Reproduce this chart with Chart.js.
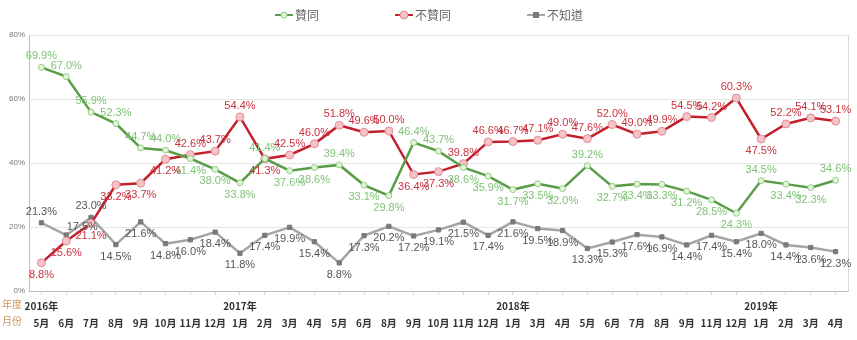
<!DOCTYPE html>
<html>
<head>
<meta charset="utf-8">
<script src="https://cdn.jsdelivr.net/npm/chart.js@4.4.1/dist/chart.umd.min.js"></script>
<style>
  html, body { margin: 0; padding: 0; background: #fff; }
  #wrap { width: 857px; height: 340px; position: relative; }
</style>
</head>
<body>
<div id="wrap"><canvas id="chart"></canvas></div>
<script>
// months / years along the bottom axis
const months = ["5月","6月","7月","8月","9月","10月","11月","12月",
  "1月","2月","3月","4月","5月","6月","8月","9月","10月","11月","12月",
  "1月","3月","4月","5月","6月","7月","8月","9月","11月","12月",
  "1月","2月","3月","4月"];
const years = ["2016年","","","","","","","",
  "2017年","","","","","","","","","","",
  "2018年","","","","","","","","","",
  "2019年","","",""];

const agree = [69.9, 67.0, 55.9, 52.3, 44.7, 44.0, 41.4, 38.0, 33.8, 41.4, 37.6,
  38.6, 39.4, 33.1, 29.8, 46.4, 43.7, 38.6, 35.9, 31.7, 33.5, 32.0, 39.2,
  32.7, 33.4, 33.3, 31.2, 28.5, 24.3, 34.5, 33.4, 32.3, 34.6];
const disagree = [8.8, 15.6, 21.1, 33.2, 33.7, 41.2, 42.6, 43.7, 54.4, 41.3, 42.5,
  46.0, 51.8, 49.6, 50.0, 36.4, 37.3, 39.8, 46.6, 46.7, 47.1, 49.0, 47.6,
  52.0, 49.0, 49.9, 54.5, 54.2, 60.3, 47.5, 52.2, 54.1, 53.1];
const unknown = [21.3, 17.5, 23.0, 14.5, 21.6, 14.8, 16.0, 18.4, 11.8, 17.4, 19.9,
  15.4, 8.8, 17.3, 20.2, 17.2, 19.1, 21.5, 17.4, 21.6, 19.5, 18.9, 13.3,
  15.3, 17.6, 16.9, 14.4, 17.4, 15.4, 18.0, 14.4, 13.6, 12.3];

const yTicks = [0, 20, 40, 60, 80];

// where each value label sits: a = above, b = below, r = above right
const labelSide = [
  "aaaaaabbbabbabbaabbbbbabbbbbbabba",
  "bbbbbbaaabaaaaabbaaaaaaaaaaaabaaa",
  "arabbbbbbbbbbbbbbbbbbbbbbbbbbbbbb"
];

const seriesStyle = [
  { line: "#5a9d47", fill: "#e4f4da", border: "#93cd80", text: "#80c277", style: "circle", r: 3 },
  { line: "#c2202c", fill: "#f5c3c7", border: "#df8c94", text: "#c8323f", style: "circle", r: 4 },
  { line: "#a5a5a5", fill: "#7a7a7a", border: "#7a7a7a", text: "#555555", style: "rect", r: 3 }
];

const valueLabels = {
  id: "valueLabels",
  afterDatasetsDraw(chart) {
    const ctx = chart.ctx;
    ctx.save();
    ctx.font = "11px 'Liberation Sans', Arial, sans-serif";
    ctx.textAlign = "center";
    ctx.textBaseline = "middle";
    chart.data.datasets.forEach(function (ds, di) {
      var meta = chart.getDatasetMeta(di);
      ctx.fillStyle = seriesStyle[di].text;
      meta.data.forEach(function (pt, i) {
        var side = labelSide[di][i] || "a";
        var x = pt.x, y = pt.y;
        if (side === "a") y -= 11;
        else if (side === "b") y += 12;
        else if (side === "r") { x += 16; y -= 8; }
        ctx.fillText(ds.data[i].toFixed(1) + "%", x, y);
      });
    });
    ctx.restore();
  }
};

const frameAndLegend = {
  id: "frameAndLegend",
  beforeDatasetsDraw(chart) {
    const a = chart.chartArea;
    const ctx = chart.ctx;
    ctx.save();
    ctx.strokeStyle = "#d9d9d9";
    ctx.lineWidth = 1;
    ctx.beginPath();
    ctx.moveTo(a.right + 0.5, a.top);
    ctx.lineTo(a.right + 0.5, a.bottom);
    ctx.stroke();
    ctx.restore();
  },
  afterDraw(chart) {
    const ctx = chart.ctx;
    ctx.save();
    // legend
    var items = [
      { x: 275, text: "贊同" },
      { x: 395, text: "不贊同" },
      { x: 527, text: "不知道" }
    ];
    ctx.font = "12px 'Noto Sans CJK TC', sans-serif";
    ctx.textBaseline = "middle";
    items.forEach(function (it, i) {
      var s = seriesStyle[i];
      var y = 15;
      ctx.strokeStyle = s.line;
      ctx.lineWidth = 2;
      ctx.beginPath();
      ctx.moveTo(it.x, y);
      ctx.lineTo(it.x + 18, y);
      ctx.stroke();
      ctx.fillStyle = s.fill;
      ctx.strokeStyle = s.border;
      ctx.lineWidth = 1;
      if (s.style === "rect") {
        ctx.fillRect(it.x + 6, y - 3, 6, 6);
      } else {
        ctx.beginPath();
        ctx.arc(it.x + 9, y, s.r, 0, Math.PI * 2);
        ctx.fill();
        ctx.stroke();
      }
      ctx.fillStyle = "#666";
      ctx.textAlign = "left";
      ctx.fillText(it.text, it.x + 20, y);
    });
    // row titles for the x axis
    ctx.font = "10px 'Noto Sans CJK TC', sans-serif";
    ctx.fillStyle = "#d4955a";
    ctx.fillText("年度", 2, 304);
    ctx.fillText("月份", 2, 321);
    ctx.restore();
  }
};

const datasets = [agree, disagree, unknown].map(function (vals, i) {
  var s = seriesStyle[i];
  return {
    label: ["贊同", "不贊同", "不知道"][i],
    data: vals,
    borderColor: s.line,
    backgroundColor: s.fill,
    pointBackgroundColor: s.fill,
    pointBorderColor: s.border,
    pointBorderWidth: 1,
    pointStyle: s.style,
    pointRadius: s.r,
    borderWidth: 2.5,
    tension: 0,
    fill: false
  };
});

new Chart(document.getElementById("chart"), {
  type: "line",
  data: {
    labels: months.map(function (m, i) { return [years[i], m]; }),
    datasets: datasets
  },
  options: {
    responsive: true,
    maintainAspectRatio: false,
    animation: false,
    layout: { padding: { top: 35, left: 5, right: 9, bottom: 6 } },
    plugins: {
      legend: { display: false },
      tooltip: { enabled: false }
    },
    scales: {
      x: {
        offset: true,
        grid: { drawOnChartArea: false, drawTicks: true, tickLength: 4, color: "#d9d9d9" },
        border: { color: "#bfbfbf" },
        ticks: {
          autoSkip: false,
          maxRotation: 0,
          minRotation: 0,
          color: "#333",
          padding: 3,
          font: { family: "'Noto Sans CJK TC', sans-serif", size: 10, weight: "bold", lineHeight: 1.65 }
        }
      },
      y: {
        min: 0,
        max: 80,
        afterBuildTicks(axis) {
          axis.ticks = yTicks.map(function (v) { return { value: v }; });
        },
        grid: { color: "#e6e6e6", drawTicks: false },
        border: { color: "#bfbfbf" },
        ticks: {
          color: "#777",
          padding: 4,
          font: { family: "'Liberation Sans', Arial, sans-serif", size: 8 },
          callback: function (v) { return v + "%"; }
        }
      }
    }
  },
  plugins: [frameAndLegend, valueLabels]
});
</script>
</body>
</html>
